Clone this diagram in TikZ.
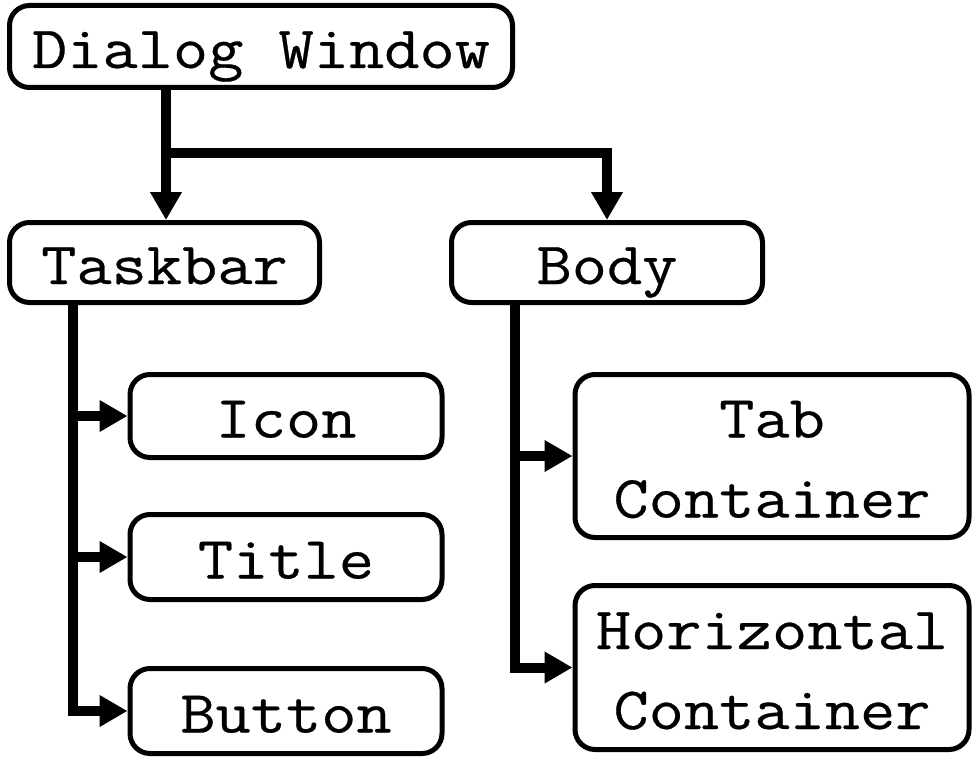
\documentclass[tikz,border=0pt]{standalone}
\usepackage{fontspec}
\newfontfamily\boxfont{Latin Modern Mono}[FakeStretch=1.14,FakeBold=0.45]
\usetikzlibrary{arrows.meta}
\begin{document}
\begin{tikzpicture}[x=1pt,y=-1pt,
  box/.style={draw,line width=5pt,rounded corners=20pt,inner sep=0pt,
    align=center,font=\boxfont\fontsize{60}{80}\selectfont,
    text height=43pt,text depth=0pt},
  twoline/.style={text height=123pt},
  conn/.style={line width=10pt,line join=miter,
    -{Triangle[length=28pt,width=30pt]}}]
\useasboundingbox (0,0) rectangle (973,757);
% boxes
\node[box,minimum width=503pt,minimum height=82pt] (dlg) at (261,46.5) {Dialog Window};
\node[box,minimum width=310pt,minimum height=80pt] (task) at (164.5,262.5) {Taskbar};
\node[box,minimum width=311pt,minimum height=80pt] (body) at (607,262.5) {Body};
\node[box,minimum width=312pt,minimum height=83pt] (icon) at (286,416) {Icon};
\node[box,minimum width=312pt,minimum height=85pt] (title) at (286,557) {Title};
\node[box,minimum width=312pt,minimum height=85pt] (button) at (286,711) {Button};
\node[box,twoline,minimum width=394pt,minimum height=163pt] (tab) at (772,456) {Tab\\Container};
\node[box,twoline,minimum width=394pt,minimum height=164pt] (horiz) at (772,667.5) {Horizontal\\Container};
% trunk positions
\coordinate (fork) at (166,153);
\coordinate (tk) at (73,0);
\coordinate (bd) at (515,0);
% top level
\draw[conn] (dlg.south -| fork) -- (fork |- task.north);
\draw[conn] (fork) -| (body.north);
% taskbar children
\draw[conn] (task.south -| tk) |- (button.west);
\draw[conn] (tk |- icon.west) -- (icon.west);
\draw[conn] (tk |- title.west) -- (title.west);
% body children
\draw[conn] (body.south -| bd) |- (horiz.west);
\draw[conn] (bd |- tab.west) -- (tab.west);
\end{tikzpicture}
\end{document}
